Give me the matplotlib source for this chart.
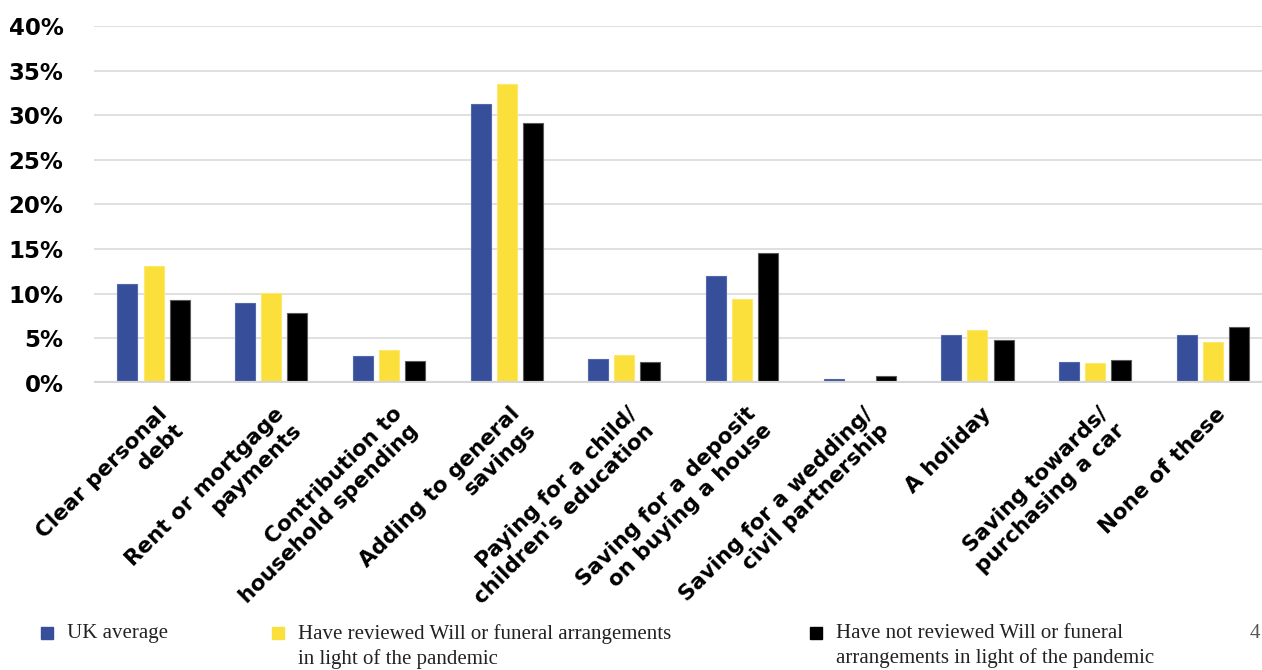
import matplotlib
matplotlib.use("Agg")
import matplotlib.pyplot as plt
import numpy as np
from matplotlib.patches import Rectangle

# ── Data ────────────────────────────────────────────────────────────────
CATEGORIES = [
    "Clear personal\ndebt",
    "Rent or mortgage\npayments",
    "Contribution to\nhousehold spending",
    "Adding to general\nsavings",
    "Paying for a child/\nchildren's education",
    "Saving for a deposit\non buying a house",
    "Saving for a wedding/\ncivil partnership",
    "A holiday",
    "Saving towards/\npurchasing a car",
    "None of these",
]
UK_AVERAGE = [11.1, 8.9, 3.0, 31.3, 2.7, 12.0, 0.4, 5.3, 2.3, 5.4]
REVIEWED = [13.1, 10.1, 3.7, 33.5, 3.1, 9.4, 0.0, 5.9, 2.2, 4.6]
NOT_REVIEWED = [9.3, 7.8, 2.4, 29.1, 2.3, 14.6, 0.8, 4.8, 2.5, 6.2]

SERIES_LABELS = [
    "UK average",
    "Have reviewed Will or funeral arrangements\nin light of the pandemic",
    "Have not reviewed Will or funeral\narrangements in light of the pandemic",
]
Y_TICKS = [0, 5, 10, 15, 20, 25, 30, 35, 40]
Y_TICK_LABELS = ["0%", "5%", "10%", "15%", "20%", "25%", "30%", "35%", "40%"]

# ── Style ───────────────────────────────────────────────────────────────
COLORS = ["#374f9b", "#fbdf3a", "#000000"]
EDGES = ["#5268ad", "#fde86e", "#5a5a5a"]
BAR_W = 0.17
BAR_STEP = 0.222

W, H, DPI = 1262, 670, 100
PX = 72 / DPI  # points per pixel

fig = plt.figure(figsize=(W / DPI, H / DPI), dpi=DPI)
ax = fig.add_axes([94 / W, 287.3 / H, 1 - 94 / W, 356.7 / H])

x = np.arange(len(CATEGORIES))
for k, vals in enumerate([UK_AVERAGE, REVIEWED, NOT_REVIEWED]):
    ax.bar(x + (k - 1) * BAR_STEP, vals, width=BAR_W, color=COLORS[k],
           edgecolor=EDGES[k], linewidth=0.8, zorder=3)

ax.set_xlim(-0.506, 9.418)
ax.set_ylim(0, 40)
ax.set_yticks(Y_TICKS)
ax.set_yticklabels(Y_TICK_LABELS, fontsize=16.5, fontweight="bold",
                   family="DejaVu Sans")
ax.tick_params(axis="y", length=0, pad=22)
ax.set_xticks([])
for s in ["top", "right", "left", "bottom"]:
    ax.spines[s].set_visible(False)
ax.grid(axis="y", color="#dddddd", lw=1.3, zorder=0)
ax.axhline(0, color="#d6d6d6", lw=3, zorder=4)

# rotated category labels, top-right corner hung just under each group
for i, label in enumerate(CATEGORIES):
    ax.annotate(label, xy=(i, 0), xycoords="data",
                xytext=(3 * PX, -21 * PX), textcoords="offset points",
                rotation=45, rotation_mode="anchor", ha="right", va="top",
                multialignment="right", fontsize=15.5, fontweight="bold",
                family="DejaVu Sans", linespacing=1.2,
                annotation_clip=False)

# legend along the bottom
LEG_X = [41, 272, 810]
for k, lab in enumerate(SERIES_LABELS):
    fig.add_artist(Rectangle((LEG_X[k] / W, (H - 639) / H), 12 / W, 12 / H,
                             transform=fig.transFigure, color=COLORS[k]))
    fig.text((LEG_X[k] + 26) / W, (H - 624) / H, lab, ha="left", va="top",
             fontsize=15, family="Liberation Serif", color="#222222",
             linespacing=1.35)

fig.text(1250 / W, (H - 624) / H, "4", ha="left", va="top", fontsize=15,
         family="Liberation Serif", color="#555555")

fig.savefig("out.png", dpi=DPI)
